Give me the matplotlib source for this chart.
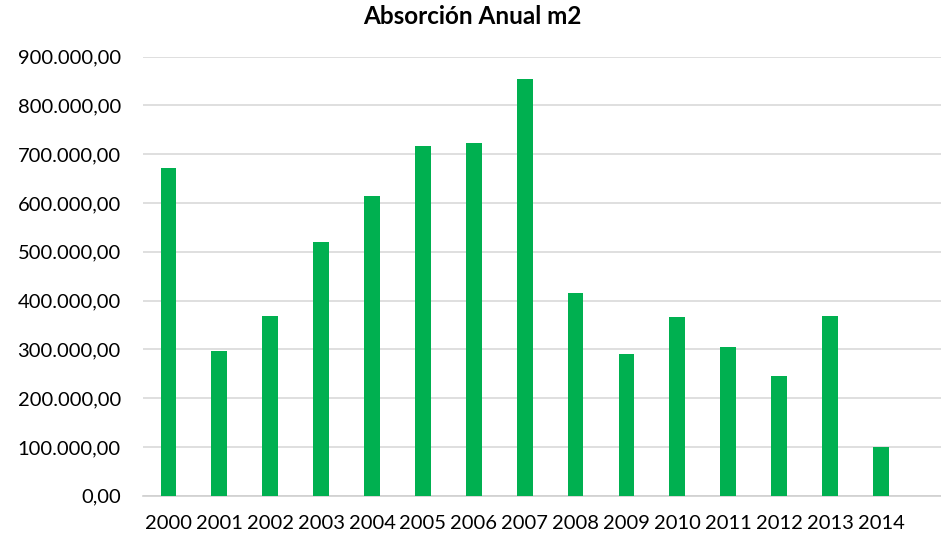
import matplotlib as mpl
mpl.use('Agg')
import matplotlib.pyplot as plt
from matplotlib.ticker import FuncFormatter

years = ['2000', '2001', '2002', '2003', '2004', '2005', '2006', '2007',
         '2008', '2009', '2010', '2011', '2012', '2013', '2014']
absorcion = [672000, 296000, 368000, 520000, 614000, 716000, 723000, 854000,
             416000, 290000, 366000, 304000, 245000, 368000, 99000]
yticks = [0, 100000, 200000, 300000, 400000, 500000, 600000, 700000, 800000, 900000]

plt.rcParams['font.family'] = ['Lato', 'DejaVu Sans']


def es_fmt(v, pos):
    s = '{:,.2f}'.format(v)
    return s.replace(',', 'X').replace('.', ',').replace('X', '.')


fig = plt.figure(figsize=(9.41, 5.35), dpi=100)
ax = fig.add_axes([0.152, 0.0734, 0.848, 0.8206])

x = range(len(years))
ax.bar(x, absorcion, width=0.31, color='#00B050', zorder=3)

ax.set_ylim(0, 900000)
ax.set_xlim(-0.5, 15.18)
ax.set_yticks(yticks)
ax.yaxis.set_major_formatter(FuncFormatter(es_fmt))
ax.set_xticks(list(x))
ax.set_xticklabels(years)
ax.tick_params(axis='y', length=0, pad=16, labelsize=14.5, labelcolor='#000000')
ax.tick_params(axis='x', length=0, pad=14, labelsize=14.5, labelcolor='#000000')

ax.grid(axis='y', color='#d9d9d9', linewidth=1.2, zorder=0)
for side in ['top', 'right', 'left']:
    ax.spines[side].set_visible(False)
ax.spines['bottom'].set_color('#d0d0d0')
ax.spines['bottom'].set_linewidth(1.2)

fig.suptitle('Absorción Anual m2', x=0.502, y=0.99, fontsize=17.5, fontweight='bold')

plt.savefig('out.png', dpi=100)
